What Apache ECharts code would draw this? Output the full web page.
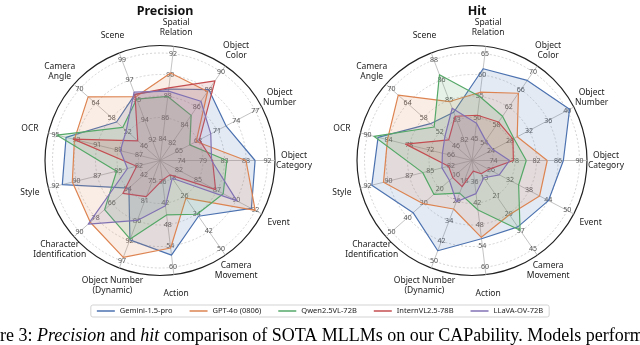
<!DOCTYPE html>
<html>
<head>
<meta charset="utf-8">
<script src="https://cdn.jsdelivr.net/npm/echarts@6/dist/echarts.min.js"></script>
<style>
  html, body { margin: 0; padding: 0; background: #fff; }
  #chart { width: 640px; height: 345px; }
</style>
</head>
<body>
<div id="chart"></div>
<script>
// axes go counter-clockwise starting at the right (Object Category)
var axisNames = ['Object\nCategory', 'Object\nNumber', 'Object\nColor', 'Spatial\nRelation', 'Scene',
  'Camera\nAngle', 'OCR', 'Style', 'Character\nIdentification', 'Object Number\n(Dynamic)',
  'Action', 'Camera\nMovement', 'Event'];
var models = ['Gemini-1.5-pro', 'GPT-4o (0806)', 'Qwen2.5VL-72B', 'InternVL2.5-78B', 'LLaVA-OV-72B'];
var colors = ['#4c72b0', '#dd8452', '#55a868', '#c44e52', '#8172b3'];

// ring labels per axis (ring 1..5)
var precisionTicks = [
  [74, 79, 83, 88, 92], [65, 68, 71, 74, 77], [82, 84, 86, 88, 90], [84, 86, 88, 90, 92],
  [92, 94, 95, 97, 99], [46, 52, 58, 64, 70], [87, 89, 91, 93, 95], [82, 85, 87, 90, 92],
  [42, 54, 66, 78, 90], [75, 81, 86, 92, 97], [36, 42, 48, 54, 60], [18, 26, 34, 42, 50],
  [82, 85, 87, 90, 92]
];
var hitTicks = [
  [74, 78, 82, 86, 90], [24, 28, 32, 36, 40], [54, 58, 62, 66, 70], [45, 50, 55, 60, 65],
  [82, 83, 85, 86, 88], [46, 52, 58, 64, 70], [66, 72, 78, 84, 90], [82, 85, 87, 90, 92],
  [10, 20, 30, 40, 50], [18, 26, 34, 42, 50], [36, 42, 48, 54, 60], [13, 21, 29, 37, 45],
  [26, 32, 38, 44, 50]
];

// precision
var precisionGemini = [89.4, 72.4, 88.0, 88.7, 96.0, 56.2, 94.0, 91.2, 53.2, 91.2, 56.6, 35.2, 91.5];
var precisionGPT4o = [87.5, 67.7, 87.8, 90.2, 95.8, 66.8, 93.2, 90.0, 82.0, 96.0, 54.6, 27.0, 92.0];
var precisionQwen = [83.5, 66.7, 85.1, 88.0, 95.6, 53.9, 94.9, 84.7, 71.3, 91.0, 45.3, 34.3, 87.8];
var precisionIntern = [80.5, 68.2, 89.0, 88.8, 96.0, 48.3, 93.3, 82.3, 57.7, 79.4, 35.5, 16.5, 86.8];
var precisionLLaVA = [80.3, 70.0, 86.7, 88.5, 96.2, 52.6, 88.8, 83.4, 83.5, 85.9, 42.7, 18.0, 89.6];

// hit
var hitGemini = [87.0, 40.5, 68.1, 61.5, 84.1, 55.5, 87.0, 91.5, 36.6, 45.9, 52.0, 35.0, 44.1];
var hitGPT4o = [84.0, 29.5, 65.2, 56.0, 84.9, 67.5, 84.3, 90.1, 30.3, 29.3, 51.6, 29.5, 41.3];
var hitQwen = [80.1, 28.8, 60.0, 55.0, 86.9, 54.1, 88.2, 85.4, 23.7, 23.0, 43.9, 36.5, 34.7];
var hitIntern = [77.7, 28.6, 58.7, 50.6, 83.8, 48.7, 79.1, 82.3, 12.0, 20.4, 33.0, 11.0, 25.3];
var hitLLaVA = [77.0, 24.4, 54.5, 48.7, 84.4, 50.1, 68.5, 83.1, 14.0, 26.4, 39.3, 12.8, 28.6];

var font = '"Noto Sans", sans-serif';

function buildIndicators(ticks) {
  return axisNames.map(function (name, i) {
    var t = ticks[i];
    var step = (t[4] - t[0]) / 4;
    var min = t[0] - step;
    return {
      name: name,
      min: min,
      max: t[4],
      axisLabel: {
        formatter: function (v) {
          var k = Math.round((v - min) / step);
          return k >= 1 && k <= 5 ? String(t[k - 1]) : '';
        }
      }
    };
  });
}

function innerRadar(center, ticks) {
  return {
    center: center,
    radius: 107.5,
    startAngle: 0,
    splitNumber: 5,
    shape: 'circle',
    indicator: buildIndicators(ticks),
    nameGap: 26.5,
    axisName: { color: '#222', fontSize: 8.5, fontFamily: font, lineHeight: 10, align: 'center', verticalAlign: 'middle' },
    axisLine: { show: false },
    axisTick: { show: false },
    axisLabel: { show: true, color: '#555', fontSize: 7, fontFamily: font, margin: 0, align: 'center', verticalAlign: 'middle' },
    splitLine: { lineStyle: { color: '#c8c8c8', type: [2, 2], width: 0.8 } },
    splitArea: { show: false }
  };
}

function outerRadar(center) {
  return {
    center: center,
    radius: 115,
    startAngle: 0,
    splitNumber: 1,
    shape: 'circle',
    indicator: axisNames.map(function () { return { name: '', max: 1 }; }),
    axisName: { show: false },
    axisLine: { lineStyle: { color: '#b4b4b4', width: 0.8 } },
    axisTick: { show: false },
    axisLabel: { show: false },
    splitLine: { lineStyle: { color: '#222', width: 1.2 } },
    splitArea: { show: false }
  };
}

function buildSeries(radarIndex, values) {
  return {
    type: 'radar',
    radarIndex: radarIndex,
    symbol: 'none',
    data: models.map(function (m, i) {
      return {
        name: m,
        value: values[i],
        lineStyle: { color: colors[i], width: 1.2 },
        areaStyle: { color: colors[i], opacity: 0.15 },
        itemStyle: { color: colors[i] }
      };
    })
  };
}

var chart = echarts.init(document.getElementById('chart'));
chart.setOption({
  animation: false,
  color: colors,
  title: [
    { text: 'Precision', left: 160, top: 0, textAlign: 'center', textStyle: { fontSize: 12.5, fontWeight: 'bold', fontFamily: font, color: '#111' } },
    { text: 'Hit', left: 472, top: 0, textAlign: 'center', textStyle: { fontSize: 12.5, fontWeight: 'bold', fontFamily: font, color: '#111' } }
  ],
  legend: {
    data: models,
    top: 305,
    left: 'center',
    icon: 'rect',
    itemWidth: 18,
    itemHeight: 1.5,
    itemGap: 17,
    padding: [2, 6, 2, 6],
    borderColor: '#c8c8c8',
    borderWidth: 0.8,
    borderRadius: 2,
    textStyle: { fontSize: 7.5, color: '#222', fontFamily: font }
  },
  radar: [
    outerRadar([160, 160.5]),
    innerRadar([160, 160.5], precisionTicks),
    outerRadar([472, 160.5]),
    innerRadar([472, 160.5], hitTicks)
  ],
  series: [
    buildSeries(1, [precisionGemini, precisionGPT4o, precisionQwen, precisionIntern, precisionLLaVA]),
    buildSeries(3, [hitGemini, hitGPT4o, hitQwen, hitIntern, hitLLaVA])
  ],
  graphic: [{
    type: 'text',
    left: -33,
    top: 327,
    silent: true,
    style: {
      text: 'Figure 3: {i|Precision} and {i|hit} comparison of SOTA MLLMs on our CAPability. Models perform',
      fontFamily: '"Liberation Serif", serif',
      fontSize: 18,
      fill: '#000',
      rich: { i: { fontStyle: 'italic', fontFamily: '"Liberation Serif", serif', fontSize: 18 } }
    }
  }]
});
</script>
</body>
</html>
